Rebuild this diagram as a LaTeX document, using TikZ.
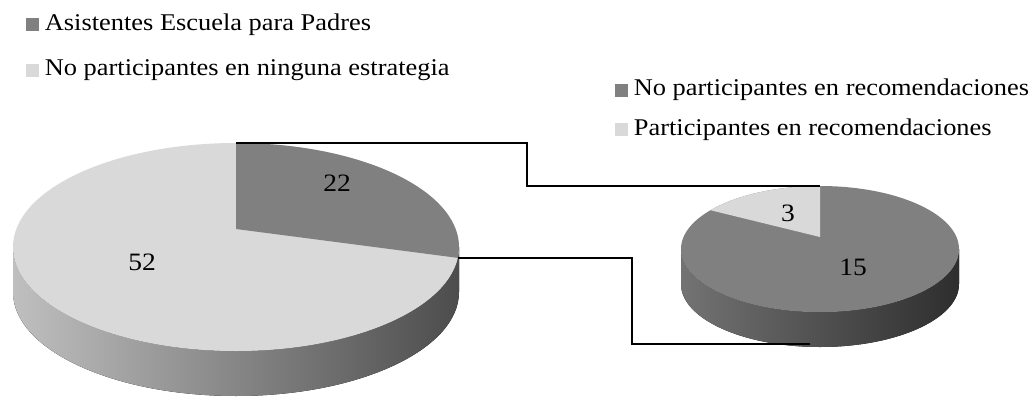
\documentclass[tikz,border=0pt]{standalone}
\usepackage{fontspec}
\setmainfont[FakeStretch=1.1]{Liberation Serif}
\usetikzlibrary{positioning}
\definecolor{slicedark}{RGB}{128,128,128}
\definecolor{slicelight}{RGB}{217,217,217}
\tikzstyle{key} = [minimum size=13pt,inner sep=0pt]
\tikzstyle{keytext} = [font=\fontsize{24}{28}\selectfont,inner sep=0pt]
\tikzstyle{num} = [font=\fontsize{25}{30}\selectfont,inner sep=0pt]
\tikzstyle{link} = [draw=black,line width=1.3pt]

\begin{document}
\begin{tikzpicture}[x=1pt,y=1pt]
  \useasboundingbox (0,0) rectangle (1036,400);

  % big pie
  \fill[left color=black!25,right color=black!70]
    (13,153) -- (13,108) arc[start angle=180,end angle=360,x radius=223,y radius=104]
    -- (459,153) arc[start angle=0,end angle=-180,x radius=223,y radius=104] -- cycle;
  \fill[slicelight] (236,153) ellipse[x radius=223,y radius=104];
  \fill[slicedark] (236,171) -- (236,257)
    arc[start angle=90,end angle=-6,x radius=223,y radius=104] -- cycle;

  % small pie
  \fill[left color=black!55,right color=black!82]
    (681,151) -- (681,116) arc[start angle=180,end angle=360,x radius=139,y radius=63]
    -- (959,151) arc[start angle=0,end angle=-180,x radius=139,y radius=63] -- cycle;
  \fill[slicedark] (820,151) ellipse[x radius=139,y radius=63];
  \fill[slicelight] (820,163) -- (820,214)
    arc[start angle=90,end angle=142,x radius=139,y radius=63] -- cycle;

  \node [num] (n22) at (337,217) {22};
  \node [num] (n52) at (142,138) {52};
  \node [num] (n3) at (788,187) {3};
  \node [num] (n15) at (853,133) {15};

  % legends
  \node [key,fill=slicedark] (k1) at (32,375) {};
  \node [keytext,right=6pt of k1] (t1) {Asistentes Escuela para Padres};
  \node [key,fill=slicelight,below=32pt of k1] (k2) {};
  \node [keytext,right=6pt of k2] (t2) {No participantes en ninguna estrategia};

  \node [key,fill=slicedark] (k3) at (621,310) {};
  \node [keytext,right=6pt of k3] (t3) {No participantes en recomendaciones};
  \node [key,fill=slicelight,below=26pt of k3] (k4) {};
  \node [keytext,right=6pt of k4] (t4) {Participantes en recomendaciones};

  \coordinate (btop) at (236,257);
  \coordinate (bedge) at (458,142);
  \coordinate (stop) at (820,214);
  \coordinate (sbot) at (810,56);
  \draw [link] (btop) -- ++(291,0) |- (stop);
  \draw [link] (bedge) -- ++(174,0) |- (sbot);
\end{tikzpicture}
\end{document}
